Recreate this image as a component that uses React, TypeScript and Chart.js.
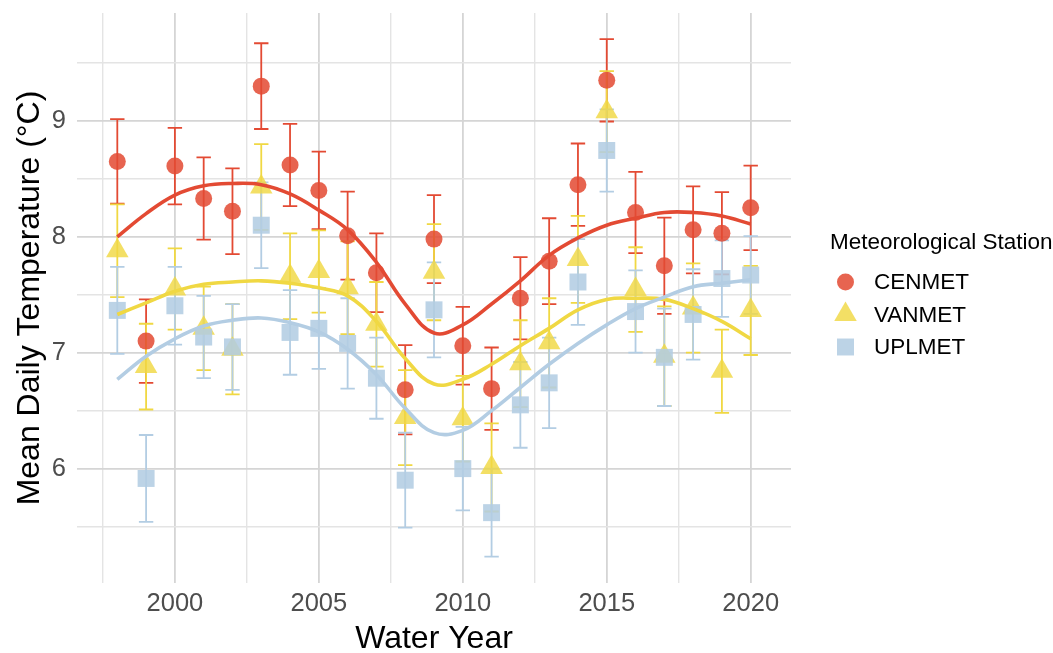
import React, { useEffect, useRef } from "react";
import { Chart, registerables } from "chart.js";

Chart.register(...registerables);

// Water years on the x axis
const years = [1998, 1999, 2000, 2001, 2002, 2003, 2004, 2005, 2006, 2007, 2008, 2009, 2010, 2011, 2012, 2013, 2014, 2015, 2016, 2017, 2018, 2019, 2020];

// CENMET: annual mean, half-width of the error bar, smoothed trend
const cenmetMean = [8.65, 7.10, 8.61, 8.33, 8.22, 9.30, 8.62, 8.40, 8.01, 7.69, 6.68, 7.98, 7.06, 6.69, 7.47, 7.79, 8.45, 9.35, 8.21, 7.75, 8.06, 8.03, 8.25];
const cenmetErr = [0.365, 0.36, 0.33, 0.355, 0.37, 0.37, 0.355, 0.335, 0.38, 0.34, 0.385, 0.38, 0.335, 0.355, 0.355, 0.37, 0.355, 0.355, 0.35, 0.415, 0.375, 0.355, 0.365];
const cenmetFit = [8.00, 8.20, 8.36, 8.44, 8.46, 8.45, 8.37, 8.23, 8.06, 7.78, 7.42, 7.17, 7.24, 7.42, 7.62, 7.84, 7.99, 8.10, 8.16, 8.21, 8.21, 8.18, 8.11];

// VANMET
const vanmetMean = [7.88, 6.88, 7.55, 7.21, 7.03, 8.43, 7.66, 7.70, 7.56, 7.245, 6.44, 7.695, 6.43, 6.01, 6.905, 7.085, 7.805, 9.08, 7.545, 6.97, 7.385, 6.84, 7.365];
const vanmetErr = [0.40, 0.37, 0.35, 0.36, 0.39, 0.37, 0.37, 0.355, 0.40, 0.365, 0.41, 0.415, 0.37, 0.38, 0.375, 0.385, 0.375, 0.35, 0.365, 0.43, 0.385, 0.36, 0.385];
const vanmetFit = [7.33, 7.43, 7.53, 7.59, 7.61, 7.62, 7.60, 7.56, 7.49, 7.27, 6.95, 6.73, 6.77, 6.90, 7.06, 7.21, 7.37, 7.46, 7.47, 7.46, 7.38, 7.27, 7.12];

// UPLMET
const uplmetMean = [7.365, 5.915, 7.405, 7.135, 7.05, 8.10, 7.175, 7.21, 7.08, 6.78, 5.90, 7.37, 6.00, 5.62, 6.55, 6.74, 7.61, 8.745, 7.355, 6.96, 7.33, 7.64, 7.67];
const uplmetErr = [0.375, 0.375, 0.335, 0.355, 0.37, 0.37, 0.365, 0.35, 0.39, 0.35, 0.41, 0.41, 0.36, 0.38, 0.37, 0.39, 0.37, 0.355, 0.355, 0.42, 0.39, 0.33, 0.335];
const uplmetFit = [6.77, 6.97, 7.12, 7.23, 7.28, 7.30, 7.26, 7.18, 7.03, 6.81, 6.52, 6.31, 6.33, 6.50, 6.70, 6.90, 7.08, 7.24, 7.38, 7.48, 7.57, 7.60, 7.63];

// Grid positions (major + minor) and axis limits
const xGridValues = [1997.5, 2000, 2002.5, 2005, 2007.5, 2010, 2012.5, 2015, 2017.5, 2020];
const xLabelValues = [2000, 2005, 2010, 2015, 2020];
const yGridValues = [5.5, 6, 6.5, 7, 7.5, 8, 8.5, 9, 9.5];
const yLabelValues = [6, 7, 8, 9];
const xLimits = [1996.6, 2021.4];
const yLimits = [5.013, 9.931];

const stationNames = ["CENMET", "VANMET", "UPLMET"];
const legendTitle = "Meteorological Station";
const xTitle = "Water Year";
const yTitle = "Mean Daily Temperature (°C)";

const FONT = '"Liberation Sans", Arial, Helvetica, sans-serif';

type Station = {
  name: string;
  mean: number[];
  err: number[];
  fit: number[];
  color: string;
  fill: string;
  shape: "circle" | "triangle" | "rect";
  radius: number;
};

const stations: Station[] = [
  { name: stationNames[0], mean: cenmetMean, err: cenmetErr, fit: cenmetFit, color: "#E34A33", fill: "rgba(227,74,51,0.86)", shape: "circle", radius: 8.5 },
  { name: stationNames[1], mean: vanmetMean, err: vanmetErr, fit: vanmetFit, color: "#F0D843", fill: "rgba(240,216,67,0.82)", shape: "triangle", radius: 13 },
  { name: stationNames[2], mean: uplmetMean, err: uplmetErr, fit: uplmetFit, color: "#B3CDE3", fill: "rgba(179,205,227,0.88)", shape: "rect", radius: 12 },
];

const CAP_HALF = 0.25; // half-width of error-bar caps, in years

function drawMarker(ctx: CanvasRenderingContext2D, s: Station, x: number, y: number) {
  ctx.fillStyle = s.fill;
  ctx.beginPath();
  if (s.shape === "circle") {
    ctx.arc(x, y, s.radius, 0, Math.PI * 2);
  } else if (s.shape === "triangle") {
    const r = s.radius;
    ctx.moveTo(x, y - r);
    ctx.lineTo(x + r * Math.sin((2 * Math.PI) / 3), y + r * 0.5);
    ctx.lineTo(x - r * Math.sin((2 * Math.PI) / 3), y + r * 0.5);
    ctx.closePath();
  } else {
    const h = s.radius * Math.SQRT1_2;
    ctx.rect(x - h, y - h, 2 * h, 2 * h);
  }
  ctx.fill();
}

const errorBarPlugin = {
  id: "errorBars",
  beforeDatasetsDraw(chart: any) {
    const { ctx, scales } = chart;
    const xs = scales.x;
    const ys = scales.y;
    ctx.save();
    ctx.lineWidth = 1.8;
    ctx.lineCap = "butt";
    stations.forEach((s) => {
      ctx.strokeStyle = s.color;
      years.forEach((yr, i) => {
        const px = xs.getPixelForValue(yr);
        const x0 = xs.getPixelForValue(yr - CAP_HALF);
        const x1 = xs.getPixelForValue(yr + CAP_HALF);
        const top = ys.getPixelForValue(s.mean[i] + s.err[i]);
        const bot = ys.getPixelForValue(s.mean[i] - s.err[i]);
        ctx.beginPath();
        ctx.moveTo(px, top);
        ctx.lineTo(px, bot);
        ctx.moveTo(x0, top);
        ctx.lineTo(x1, top);
        ctx.moveTo(x0, bot);
        ctx.lineTo(x1, bot);
        ctx.stroke();
      });
    });
    ctx.restore();
  },
};

const labelsPlugin = {
  id: "titlesAndLegend",
  afterDraw(chart: any) {
    const { ctx, chartArea } = chart;
    ctx.save();
    // axis titles
    ctx.fillStyle = "#000000";
    ctx.font = `32px ${FONT}`;
    ctx.textAlign = "center";
    ctx.textBaseline = "alphabetic";
    ctx.fillText(xTitle, (chartArea.left + chartArea.right) / 2, 648);
    ctx.save();
    ctx.translate(39, (chartArea.top + chartArea.bottom) / 2);
    ctx.rotate(-Math.PI / 2);
    ctx.fillText(yTitle, 0, 0);
    ctx.restore();

    // legend
    ctx.textAlign = "left";
    ctx.textBaseline = "middle";
    ctx.font = `22.5px ${FONT}`;
    ctx.fillStyle = "#000000";
    ctx.fillText(legendTitle, 830, 243);
    const keyY = [282, 314.5, 347];
    stations.forEach((s, i) => {
      drawMarker(ctx, s, 845.5, keyY[i]);
      ctx.fillStyle = "#000000";
      ctx.fillText(s.name, 874, keyY[i] + 1);
    });
    ctx.restore();
  },
};

// Keep the panel edges fixed: no extra room for overhanging tick labels
function clearScalePadding(scale: any) {
  scale.paddingTop = 0;
  scale.paddingBottom = 0;
  scale.paddingLeft = 0;
  scale.paddingRight = 0;
}

const MAJOR_GRID = "#d5d5d5";
const MINOR_GRID = "#e4e4e4";

export default function App() {
  const canvasRef = useRef<HTMLCanvasElement | null>(null);

  useEffect(() => {
    document.body.style.margin = "0";
    const canvas = canvasRef.current;
    if (!canvas) return;

    const lineSets = stations
      .slice()
      .reverse()
      .map((s) => ({
        type: "line" as const,
        label: s.name + " trend",
        data: years.map((yr, i) => ({ x: yr, y: s.fit[i] })),
        borderColor: s.color,
        borderWidth: 3.6,
        pointRadius: 0,
        tension: 0.4,
        fill: false,
        showLine: true,
      }));

    const pointSets = stations
      .slice()
      .reverse()
      .map((s) => ({
        type: "scatter" as const,
        label: s.name,
        data: years.map((yr, i) => ({ x: yr, y: s.mean[i] })),
        pointStyle: s.shape,
        pointRadius: s.radius,
        pointHoverRadius: s.radius,
        backgroundColor: s.fill,
        borderWidth: 0,
        showLine: false,
      }));

    const chart = new Chart(canvas, {
      type: "scatter",
      data: { datasets: [...lineSets, ...pointSets] as any },
      plugins: [errorBarPlugin, labelsPlugin],
      options: {
        animation: false,
        responsive: false,
        devicePixelRatio: 1,
        layout: { padding: { top: 10, right: 262, left: 0, bottom: 0 } },
        plugins: { legend: { display: false }, tooltip: { enabled: false } },
        scales: {
          x: {
            type: "linear",
            min: xLimits[0],
            max: xLimits[1],
            border: { display: false },
            afterFit: (scale: any) => {
              scale.height = 70;
              clearScalePadding(scale);
            },
            afterBuildTicks: (scale: any) => {
              scale.ticks = xGridValues.map((v) => ({ value: v }));
            },
            grid: {
              drawTicks: false,
              color: (c: any) => (xLabelValues.includes(c.tick?.value) ? MAJOR_GRID : MINOR_GRID),
              lineWidth: (c: any) => (xLabelValues.includes(c.tick?.value) ? 1.8 : 1.4),
            },
            ticks: {
              padding: 6,
              color: "#4D4D4D",
              font: { family: FONT, size: 25.5 },
              maxRotation: 0,
              autoSkip: false,
              callback: (v: any) => (xLabelValues.includes(Number(v)) ? String(v) : ""),
            },
          },
          y: {
            type: "linear",
            min: yLimits[0],
            max: yLimits[1],
            border: { display: false },
            afterFit: (scale: any) => {
              scale.width = 77;
              clearScalePadding(scale);
            },
            afterBuildTicks: (scale: any) => {
              scale.ticks = yGridValues.map((v) => ({ value: v }));
            },
            grid: {
              drawTicks: false,
              color: (c: any) => (yLabelValues.includes(c.tick?.value) ? MAJOR_GRID : MINOR_GRID),
              lineWidth: (c: any) => (yLabelValues.includes(c.tick?.value) ? 1.8 : 1.4),
            },
            ticks: {
              padding: 11,
              color: "#4D4D4D",
              font: { family: FONT, size: 25.5 },
              autoSkip: false,
              callback: (v: any) => (yLabelValues.includes(Number(v)) ? String(v) : ""),
            },
          },
        },
      } as any,
    });

    return () => chart.destroy();
  }, []);

  return (
    <div style={{ width: 1053, height: 653 }}>
      <canvas ref={canvasRef} width={1053} height={653} style={{ display: "block" }} />
    </div>
  );
}
